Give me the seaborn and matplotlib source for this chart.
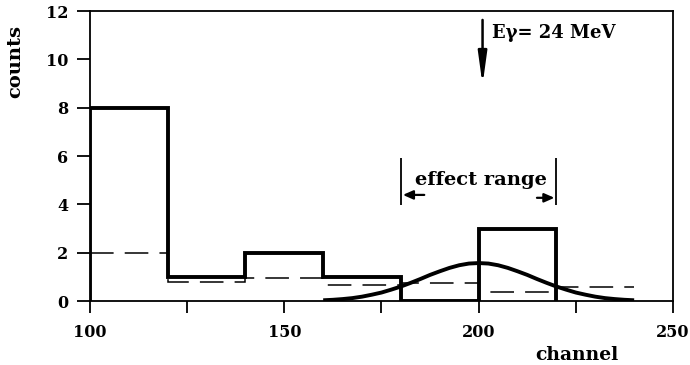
import numpy as np
import pandas as pd
import seaborn as sns
import matplotlib
matplotlib.use("Agg")
import matplotlib.pyplot as plt

# ---- data ----
bin_edges = [100, 120, 140, 160, 180, 200, 220]
bin_counts = [8, 1, 2, 1, 0, 3]

bg_edges = [100, 120, 140, 160, 180, 200, 220, 240]
bg_levels = [2.0, 0.80, 0.96, 0.66, 0.76, 0.36, 0.59]

fit_channel = [160, 162.5, 165, 167.5, 170, 172.5, 175, 177.5, 180, 182.5, 185,
               187.5, 190, 192.5, 195, 197.5, 200, 202.5, 205, 207.5, 210, 212.5,
               215, 217.5, 220, 222.5, 225, 227.5, 230, 232.5, 235, 237.5, 240]
fit_counts = [0.03, 0.05, 0.08, 0.12, 0.18, 0.26, 0.35, 0.47, 0.60, 0.75, 0.91,
              1.08, 1.23, 1.37, 1.48, 1.55, 1.57, 1.55, 1.48, 1.37, 1.23, 1.08,
              0.91, 0.75, 0.60, 0.47, 0.35, 0.26, 0.18, 0.12, 0.08, 0.05, 0.03]

x_ticks = [100, 125, 150, 175, 200, 225, 250]
x_ticklabels = ["100", "", "150", "", "200", "", "250"]
y_ticks = [0, 2, 4, 6, 8, 10, 12]

gamma_energy_label = "Eγ= 24 MeV"
gamma_channel = 201
range_lo, range_hi = 180, 220

sns.set_theme(style="white")
FONT = "DejaVu Serif"
plt.rcParams["font.family"] = [FONT]
plt.rcParams["font.weight"] = "bold"
plt.rcParams["text.color"] = "black"

fig = plt.figure(figsize=(6.9, 3.65), dpi=100)
ax = fig.add_axes([90 / 690, 1 - 301 / 365, (673 - 90) / 690, (301 - 11) / 365])

# histogram outline (solid), with both outer edges down to zero
ax.stairs(bin_counts, bin_edges, baseline=0, color="black", linewidth=2.8)

# background estimate (dashed steps)
lw_d = 1.1
ax.stairs(bg_levels, bg_edges, baseline=None, color="black", linewidth=lw_d,
          linestyle=(0, (17 / lw_d, 8 / lw_d)))

# expected effect (smooth curve)
fit_df = pd.DataFrame({"channel": fit_channel, "counts": fit_counts})
sns.lineplot(data=fit_df, x="channel", y="counts", color="black", linewidth=2.8,
             ax=ax, solid_capstyle="butt")

ax.set_xlim(100, 250)
ax.set_ylim(0, 12)
ax.set_xticks(x_ticks)
ax.set_xticklabels(x_ticklabels)
ax.set_yticks(y_ticks)
ax.set_yticklabels([str(v) for v in y_ticks])
ax.set_xlabel("")
ax.set_ylabel("")

for s in ax.spines.values():
    s.set_visible(True)
    s.set_color("black")
    s.set_linewidth(1.3)

ax.tick_params(axis="x", direction="out", length=8.5, width=1.3, pad=8,
               labelsize=11.5, colors="black", bottom=True)
ax.tick_params(axis="y", direction="out", length=9.5, width=1.3, pad=6,
               labelsize=11.5, colors="black", left=True)
for lab in ax.get_xticklabels() + ax.get_yticklabels():
    lab.set_fontweight("bold")
    lab.set_fontfamily(FONT)

# gamma arrow
ax.annotate("", xy=(gamma_channel, 8.94), xytext=(gamma_channel, 11.63),
            arrowprops=dict(arrowstyle="-|>,head_length=1.6,head_width=0.22",
                            color="black", linewidth=1.8, shrinkA=0, shrinkB=0))
ax.text(203.5, 10.88, gamma_energy_label, ha="left", va="baseline",
        fontsize=13, fontweight="bold", fontfamily=FONT, color="black")

# effect range bracket
ax.vlines([range_lo, range_hi], 3.97, 5.92, color="black", linewidth=1.3)
ax.text((range_lo + range_hi) / 2 + 0.7, 4.82, "effect range", ha="center",
        va="baseline", fontsize=14, fontweight="bold", fontfamily=FONT,
        color="black")
ax.annotate("", xy=(range_lo + 0.5, 4.39), xytext=(range_lo + 6, 4.39),
            arrowprops=dict(arrowstyle="-|>,head_length=0.5,head_width=0.22",
                            color="black", linewidth=1.6, shrinkA=0, shrinkB=0))
ax.annotate("", xy=(range_hi - 0.5, 4.27), xytext=(range_hi - 5, 4.27),
            arrowprops=dict(arrowstyle="-|>,head_length=0.5,head_width=0.22",
                            color="black", linewidth=1.6, shrinkA=0, shrinkB=0))

fig.text(15 / 690, 1 - 62 / 365, "counts", rotation=90, ha="center",
         va="center", fontsize=14, fontweight="bold", fontfamily=FONT,
         color="black")
fig.text(577 / 690, 1 / 365, "channel", ha="center", va="bottom",
         fontsize=13.5, fontweight="bold", fontfamily=FONT, color="black")

fig.savefig("out.png", dpi=100)
